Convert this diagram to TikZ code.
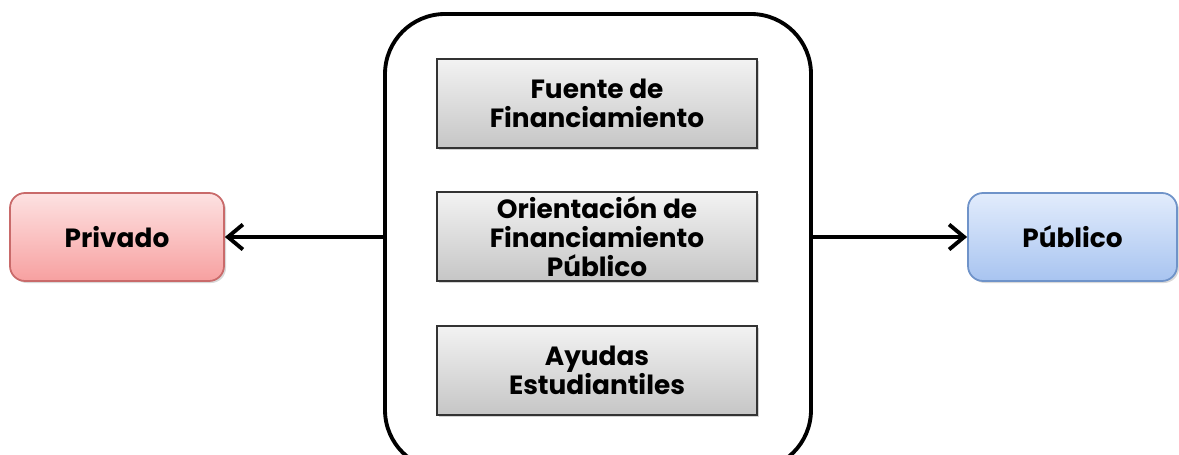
\documentclass[tikz,border=0pt]{standalone}
\usepackage{fontspec}
\setmainfont{Poppins}
\usetikzlibrary{arrows.meta, shadows}
\definecolor{privtop}{HTML}{FDE2E2}
\definecolor{privbot}{HTML}{F7A0A0}
\definecolor{privline}{HTML}{C96A6A}
\definecolor{pubtop}{HTML}{E2ECFC}
\definecolor{pubbot}{HTML}{A8C4F0}
\definecolor{publine}{HTML}{6F93C9}

\begin{document}
\begin{tikzpicture}[
    font=\bfseries\fontsize{15}{16.5}\selectfont,
    itembox/.style={draw=black!80, line width=1.1pt, top color=gray!10, bottom color=gray!45,
        minimum width=6.4cm, minimum height=1.78cm, align=center, inner sep=1pt,
        drop shadow={opacity=0.35, shadow xshift=0.04cm, shadow yshift=-0.04cm}},
    sidebox/.style={rounded corners=0.3cm, line width=1pt, minimum height=1.76cm,
        drop shadow={opacity=0.3, shadow xshift=0.04cm, shadow yshift=-0.04cm}},
    link/.style={line width=2.2pt, -{Straight Barb[length=3mm, width=5mm, line width=2.2pt]}}
]
    \useasboundingbox (0,0) rectangle (23.58,9.08);
    \node[draw, line width=2.2pt, rounded corners=1.2cm, minimum width=8.52cm, minimum height=9.12cm]
        (frame) at (11.96,4.24) {};
    \node[itembox] (fuente) at (11.94,7.01) {Fuente de\\Financiamiento};
    \node[itembox] (orient) at (11.94,4.35) {Orientación de\\Financiamiento\\Público};
    \node[itembox] (ayudas) at (11.94,1.67) {Ayudas\\Estudiantiles};
    \node[sidebox, draw=privline, top color=privtop, bottom color=privbot, minimum width=4.28cm]
        (privado) at (2.34,4.34) {Privado};
    \node[sidebox, draw=publine, top color=pubtop, bottom color=pubbot, minimum width=4.18cm]
        (publico) at (21.45,4.34) {Público};
    \draw[link] (frame.west |- privado.east) -- (privado.east);
    \draw[link] (frame.east |- publico.west) -- (publico.west);
\end{tikzpicture}
\end{document}
